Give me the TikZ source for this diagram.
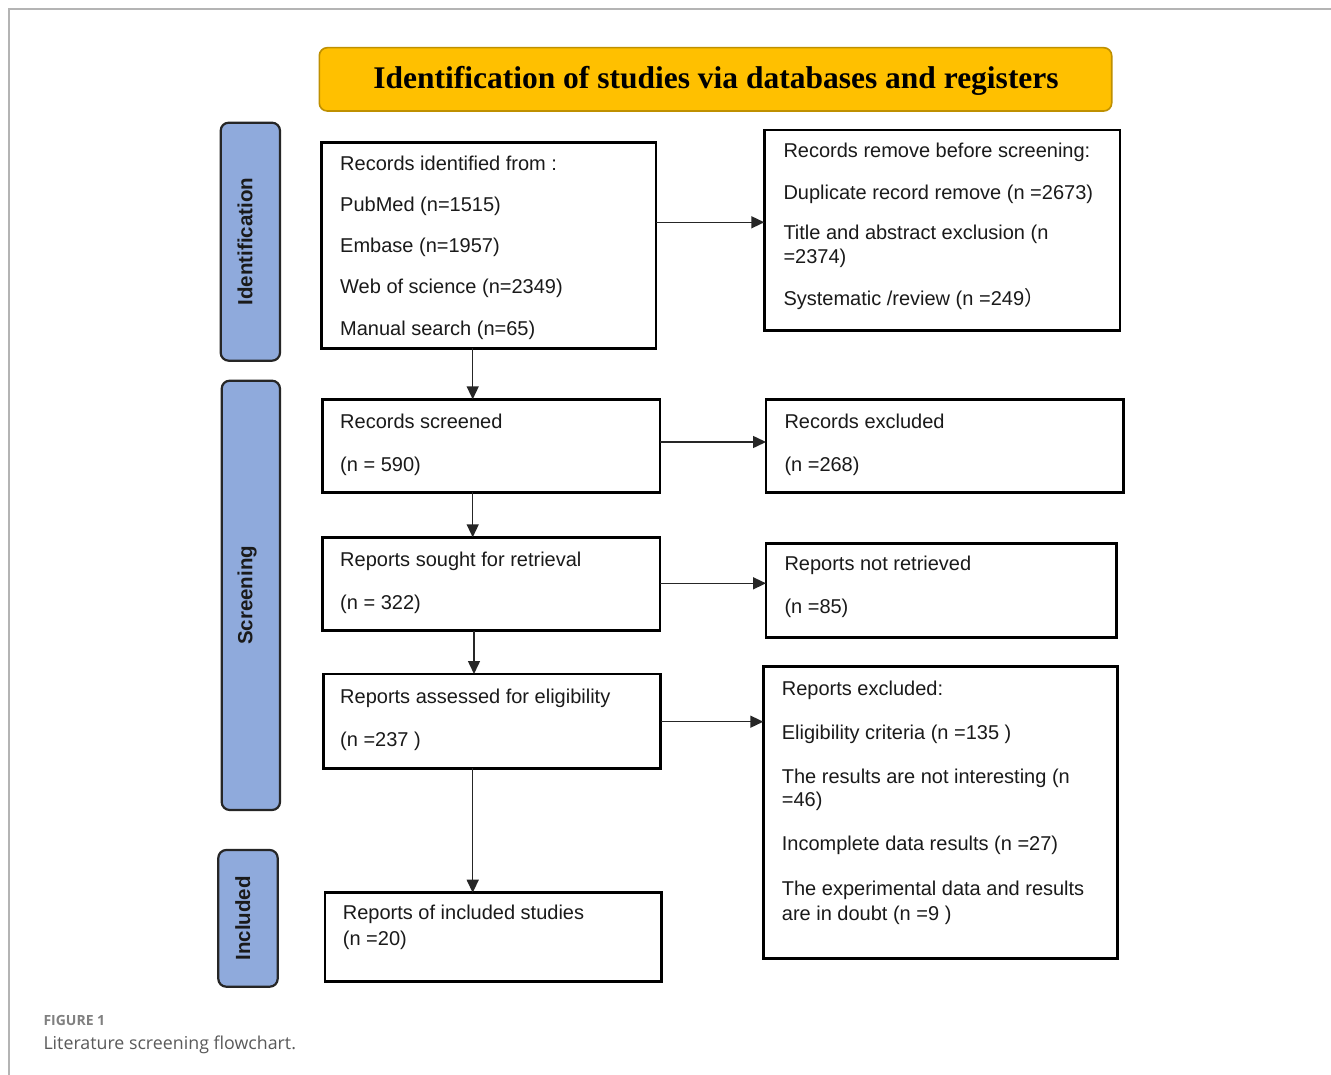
\documentclass[tikz,border=0pt]{standalone}
\usepackage{fontspec}
\setmainfont{Liberation Sans}
\newfontfamily\titlefont{Liberation Serif}
\newfontfamily\capfont{Open Sans}
\newfontfamily\cjkfont{Noto Sans CJK SC}
\usetikzlibrary{arrows.meta}
\definecolor{gold}{HTML}{FFC000}
\definecolor{golddark}{HTML}{BF9000}
\definecolor{sideblue}{HTML}{8FAADC}
\definecolor{framegray}{HTML}{B4B4B4}
\definecolor{textdark}{HTML}{1A1A1A}
\definecolor{capgray}{HTML}{808080}
\definecolor{capgray2}{HTML}{5A5A5A}
\begin{document}
\begin{tikzpicture}[x=1pt,y=-1pt,
  box/.style={draw=black, line width=2.6pt, fill=white, rectangle, inner sep=0pt, outer sep=0pt, anchor=north west},
  sidebox/.style={draw=black!85, line width=2.2pt, fill=sideblue, rounded corners=8pt, rectangle, inner sep=0pt, outer sep=0pt, anchor=north west},
  titlebox/.style={draw=golddark, line width=1.6pt, fill=gold, rounded corners=8pt, rectangle, inner sep=0pt, outer sep=0pt, anchor=north west},
  txt/.style={anchor=base west, inner sep=0pt, font=\fontsize{20}{24}\selectfont, text=textdark},
  sidetxt/.style={rotate=90, anchor=base, inner sep=0pt, font=\fontsize{20.5}{24}\selectfont\bfseries, text=textdark},
  arr/.style={line width=1.5pt, draw=black!85, -{Triangle[length=13pt,width=12pt]}},
  captxt/.style={anchor=base west, inner sep=0pt},
]
\useasboundingbox (0,0) rectangle (1331,1075);
\fill[white] (0,0) rectangle (1331,1075);
\draw[framegray, line width=1.2pt] (1331,9) -- (9,9) -- (9,1075);

% title
\node[titlebox, minimum width=792.4pt, minimum height=63.3pt] (title) at (319.3,47.7) {};
\node[anchor=base, inner sep=0pt, text=black] (titletext) at (716,89)
  {\titlefont\bfseries\fontsize{31.5}{34}\selectfont Identification of studies via databases and registers};

% side labels
\node[sidebox, minimum width=59.3pt, minimum height=238pt] (sid) at (220.7,122.7) {};
\node[sidebox, minimum width=58.3pt, minimum height=429.3pt] (sscr) at (221.7,380.7) {};
\node[sidebox, minimum width=59.4pt, minimum height=136.7pt] (sinc) at (218.3,850) {};
\node[sidetxt] (tid) at (252.3,241.7) {Identification};
\node[sidetxt] (tscr) at (252.3,595.3) {Screening};
\node[sidetxt] (tinc) at (250,918.3) {Included};

% boxes
\node[box, minimum width=334.3pt, minimum height=206pt] (A) at (321.7,142.3) {};
\node[box, minimum width=355.7pt, minimum height=200.7pt] (B) at (764.3,130) {};
\node[box, minimum width=337.7pt, minimum height=93pt] (C) at (322.3,399.3) {};
\node[box, minimum width=357.3pt, minimum height=93.4pt] (D) at (766,399.3) {};
\node[box, minimum width=337.7pt, minimum height=93.4pt] (E) at (322.3,537.3) {};
\node[box, minimum width=350.7pt, minimum height=94pt] (F) at (766,543.3) {};
\node[box, minimum width=337.4pt, minimum height=94.3pt] (G) at (323.3,674) {};
\node[box, minimum width=354pt, minimum height=291.6pt] (H) at (763.3,666.7) {};
\node[box, minimum width=336.7pt, minimum height=89pt] (I) at (325,892.7) {};

% connector guides
\coordinate (r1) at (0,222.3);
\coordinate (r2) at (0,442);
\coordinate (r3) at (0,583.3);
\coordinate (r4) at (0,721.7);
\coordinate (c1) at (472.7,0);
\coordinate (c2) at (474,0);

\draw[arr] (A.east |- r1) -- (B.west |- r1);
\draw[arr] (C.east |- r2) -- (D.west |- r2);
\draw[arr] (E.east |- r3) -- (F.west |- r3);
\draw[arr] (G.east |- r4) -- (H.west |- r4);
\draw[arr] (A.south -| c1) -- (C.north -| c1);
\draw[arr] (C.south -| c1) -- (E.north -| c1);
\draw[arr] (E.south -| c2) -- (G.north -| c2);
\draw[arr] (G.south -| c1) -- (I.north -| c1);

% texts A
\node[txt] (a1) at (340,171) {Records identified from :};
\node[txt] (a2) at (340,211.7) {PubMed (n=1515)};
\node[txt] (a3) at (340,252.7) {Embase (n=1957)};
\node[txt] (a4) at (340,293.3) {Web of science (n=2349)};
\node[txt] (a5) at (340,335.7) {Manual search (n=65)};
% texts B
\node[txt] (b1) at (783.3,157.7) {Records remove before screening:};
\node[txt] (b2) at (783.3,199.3) {Duplicate record remove (n =2673)};
\node[txt] (b3) at (783.3,240) {Title and abstract exclusion (n};
\node[txt] (b4) at (783.3,263.3) {=2374)};
\node[txt] (b5) at (783.3,306) {Systematic /review (n =249{\cjkfont ）}};
% C, D
\node[txt] (c1t) at (340,428.3) {Records screened};
\node[txt] (c2t) at (340,471.7) {(n = 590)};
\node[txt] (d1) at (784.3,428.3) {Records excluded};
\node[txt] (d2) at (784.3,471.7) {(n =268)};
% E, F
\node[txt] (e1) at (340,566) {Reports sought for retrieval};
\node[txt] (e2) at (340,609.3) {(n = 322)};
\node[txt] (f1) at (784.3,570.7) {Reports not retrieved};
\node[txt] (f2) at (784.3,613.3) {(n =85)};
% G
\node[txt] (g1) at (340,703.3) {Reports assessed for eligibility};
\node[txt] (g2) at (340,746.7) {(n =237 )};
% H
\node[txt] (h1) at (781.7,695.7) {Reports excluded:};
\node[txt] (h2) at (781.7,739.3) {Eligibility criteria (n =135 )};
\node[txt] (h3) at (781.7,783.3) {The results are not interesting (n};
\node[txt] (h4) at (781.7,806.7) {=46)};
\node[txt] (h5) at (781.7,850.7) {Incomplete data results (n =27)};
\node[txt] (h6) at (781.7,895) {The experimental data and results};
\node[txt] (h7) at (781.7,920) {are in doubt (n =9 )};
% I
\node[txt] (i1) at (342.7,919.3) {Reports of included studies};
\node[txt] (i2) at (342.7,945) {(n =20)};

% caption
\node[captxt, font=\capfont\bfseries\fontsize{14}{16}\selectfont, text=capgray] (fig) at (43.3,1025) {FIGURE 1};
\node[captxt, font=\capfont\fontsize{17.8}{20}\selectfont, text=capgray2] (cap) at (43.3,1049) {Literature screening flowchart.};
\end{tikzpicture}
\end{document}
